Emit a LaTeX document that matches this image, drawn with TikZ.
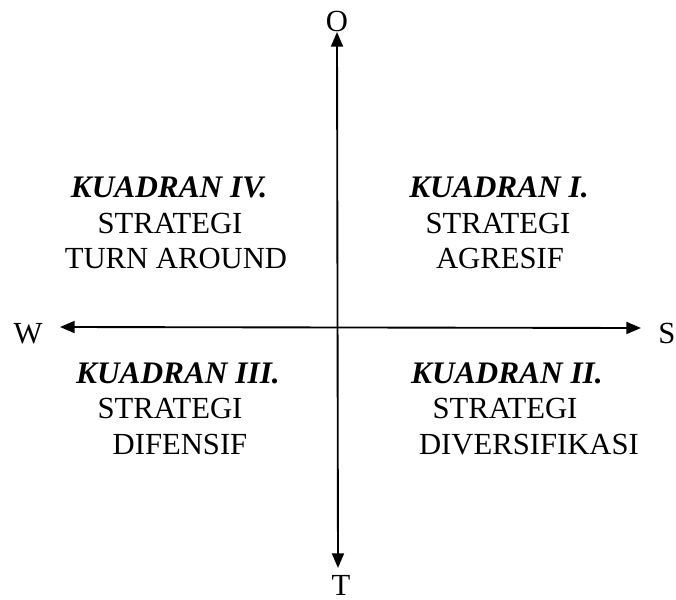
\documentclass[tikz,border=0pt]{standalone}
\usepackage{fontspec}
\setmainfont{Liberation Serif}
\usetikzlibrary{arrows.meta}
\newcommand{\ukuranteks}{\fontsize{23}{28}\selectfont}
\newcommand{\ukuranjudul}{\fontsize{23.5}{28}\selectfont}
\tikzset{
	sumbu/.style   ={line width=1.4pt, {Triangle[length=11pt,width=9pt]}-{Triangle[length=11pt,width=9pt]}},
	arahteks/.style={anchor=base, inner sep=0pt},
	judul/.style   ={anchor=base, inner sep=0pt, font=\ukuranjudul\bfseries\itshape},
	isi/.style     ={anchor=base, inner sep=0pt},
}
\begin{document}
\begin{tikzpicture}[x=0.75pt, y=-0.75pt, font=\ukuranteks]
	\useasboundingbox (0,0) rectangle (676,600);
	% ends of the two axes
	\coordinate (ujungO) at (337,32);
	\coordinate (ujungT) at (338,568);
	\coordinate (ujungW) at (60,327);
	\coordinate (ujungS) at (641,328);
	\draw[sumbu] (ujungT) -- (ujungO);
	\draw[sumbu] (ujungW) -- (ujungS);
	% axis letters
	\node[arahteks] (O) at (337,31) {O};
	\node[arahteks] (T) at (341,595) {T};
	\node[arahteks] (W) at (28,343) {W};
	\node[arahteks] (S) at (667,343) {S};
	% kuadran IV (top left)
	\node[judul] (k4a) at (169,197) {KUADRAN IV.};
	\node[isi]   (k4b) at (170,233) {STRATEGI};
	\node[isi]   (k4c) at (176,268) {TURN AROUND};
	% kuadran I (top right)
	\node[judul] (k1a) at (499,197) {KUADRAN I.};
	\node[isi]   (k1b) at (498,233) {STRATEGI};
	\node[isi]   (k1c) at (500,268) {AGRESIF};
	% kuadran III (bottom left)
	\node[judul] (k3a) at (178,383) {KUADRAN III.};
	\node[isi]   (k3b) at (170,418) {STRATEGI};
	\node[isi]   (k3c) at (180,454) {DIFENSIF};
	% kuadran II (bottom right)
	\node[judul] (k2a) at (507,383) {KUADRAN II.};
	\node[isi]   (k2b) at (505,418) {STRATEGI};
	\node[isi]   (k2c) at (529,454) {DIVERSIFIKASI};
\end{tikzpicture}
\end{document}
